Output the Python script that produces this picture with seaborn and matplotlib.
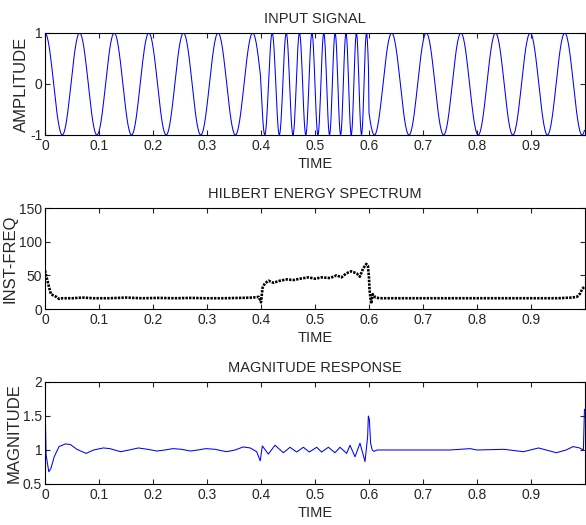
import numpy as np
import pandas as pd
import seaborn as sns
import matplotlib
matplotlib.use('Agg')
import matplotlib.pyplot as plt

# input signal: three segments
seg_start = [0.0, 0.4, 0.6]
seg_end = [0.4, 0.6, 1.0]
seg_f_start = [15.6, 35.0, 15.6]
seg_f_end = [15.6, 55.0, 15.6]
seg_peak = [0.0, 0.4207, 0.642]   # time of one crest inside each segment
fs = 1000

# hilbert instantaneous frequency (middle panel)
hil_t = [0.000, 0.003, 0.007, 0.011, 0.016, 0.021, 0.026, 0.032, 0.05, 0.07,
         0.09, 0.12, 0.15, 0.18, 0.21, 0.24, 0.27, 0.30, 0.33, 0.36,
         0.385, 0.396, 0.400, 0.403, 0.407, 0.414, 0.423, 0.435, 0.448, 0.460,
         0.472, 0.488, 0.500, 0.512, 0.528, 0.540, 0.549, 0.558, 0.567, 0.577,
         0.583, 0.589, 0.595, 0.598, 0.600, 0.601, 0.604, 0.607, 0.612, 0.62,
         0.65, 0.70, 0.75, 0.80, 0.85, 0.90, 0.95, 0.975, 0.985, 0.991,
         0.995, 0.999]
hil_f = [57, 47, 34, 22, 20, 18, 15, 16, 16, 17,
         16, 16, 17, 16, 16.5, 16, 16.5, 16, 16, 16.5,
         17, 18, 10, 32, 38, 42, 39, 42, 44, 43,
         45, 47, 45, 47, 46, 50, 47, 53, 56, 53,
         48, 60, 67, 64, 46, 28, 8, 22, 17, 16,
         16, 16, 16, 16, 16, 16, 16, 17, 18, 23,
         30, 33]

# magnitude response (bottom panel)
mag_t = [0.000, 0.001, 0.002, 0.007, 0.011, 0.017, 0.026, 0.038, 0.047, 0.059,
         0.076, 0.090, 0.108, 0.120, 0.140, 0.156, 0.173, 0.190, 0.207, 0.222,
         0.237, 0.253, 0.269, 0.283, 0.298, 0.315, 0.336, 0.352, 0.367, 0.380,
         0.392, 0.3985, 0.4025, 0.4136, 0.4259, 0.4414, 0.4537, 0.4660, 0.4784, 0.4895,
         0.5031, 0.5123, 0.5247, 0.5370, 0.5463, 0.5586, 0.5648, 0.5741, 0.5833, 0.5926,
         0.5975, 0.5988, 0.6006, 0.603, 0.606, 0.609, 0.615, 0.65, 0.70, 0.75,
         0.787, 0.80, 0.85, 0.886, 0.914, 0.947, 0.965, 0.978, 0.990, 0.997,
         0.999]
mag_v = [1.76, 1.34, 0.93, 0.68, 0.73, 0.90, 1.05, 1.09, 1.08, 1.01,
         0.95, 1.00, 1.03, 1.02, 0.975, 1.00, 1.03, 1.01, 0.985, 1.00,
         1.02, 1.01, 0.985, 1.00, 1.02, 1.01, 0.975, 1.00, 1.045, 1.03,
         0.975, 0.84, 1.06, 0.94, 1.07, 0.96, 1.04, 0.97, 1.04, 0.97,
         1.04, 0.97, 1.04, 0.96, 1.04, 0.95, 1.07, 0.90, 1.10, 0.83,
         1.20, 1.50, 1.45, 1.10, 1.00, 0.98, 1.00, 1.00, 1.00, 1.00,
         1.02, 1.00, 1.01, 0.975, 1.03, 0.96, 1.00, 1.05, 1.03, 1.00,
         1.60]

sns.set_style('ticks')
plt.rcParams['font.family'] = ['Liberation Sans', 'DejaVu Sans']
plt.rcParams['xtick.direction'] = 'in'
plt.rcParams['ytick.direction'] = 'in'
plt.rcParams['xtick.major.size'] = 3.6
plt.rcParams['ytick.major.size'] = 3.6
plt.rcParams['axes.linewidth'] = 0.8

# build the input signal
t = np.arange(fs) / fs
sig = np.zeros_like(t)
for a, b, f0, f1, pk in zip(seg_start, seg_end, seg_f_start, seg_f_end, seg_peak):
    k = (f1 - f0) / (2 * (b - a))
    ph = lambda x: f0 * (x - a) + k * (x - a) ** 2
    m = (t >= a) & (t < b)
    sig[m] = np.cos(2 * np.pi * (ph(t[m]) - ph(pk)))
df_sig = pd.DataFrame({'t': t, 'y': sig})
df_hil = pd.DataFrame({'t': hil_t, 'y': hil_f})
df_mag = pd.DataFrame({'t': mag_t, 'y': mag_v})

fig = plt.figure(figsize=(5.86, 5.25), dpi=100)
ax1 = fig.add_axes([0.0768, 0.7429, 0.9215, 0.1943])
ax2 = fig.add_axes([0.0768, 0.4114, 0.9215, 0.1924])
ax3 = fig.add_axes([0.0768, 0.0781, 0.9215, 0.1943])

sns.lineplot(data=df_sig, x='t', y='y', ax=ax1, color='#0000ff', linewidth=0.75, sort=False)
sns.lineplot(data=df_hil, x='t', y='y', ax=ax2, color='black', linewidth=1.9,
             sort=False, dashes=False)
ax2.lines[0].set_dashes((0.9, 0.45))
sns.lineplot(data=df_mag, x='t', y='y', ax=ax3, color='#0000ff', linewidth=0.75, sort=False)

titles = ['INPUT SIGNAL', 'HILBERT ENERGY SPECTRUM', 'MAGNITUDE RESPONSE']
ylabels = ['AMPLITUDE', 'INST-FREQ', 'MAGNITUDE']
ylims = [(-1, 1), (0, 150), (0.5, 2)]
yticks = [[-1, 0, 1], [0, 50, 100, 150], [0.5, 1, 1.5, 2]]
yticklabels = [['-1', '0', '1'], ['0', '50', '100', '150'], ['0.5', '1', '1.5', '2']]
xticks = [0, 0.1, 0.2, 0.3, 0.4, 0.5, 0.6, 0.7, 0.8, 0.9]
xticklabels = ['0', '0.1', '0.2', '0.3', '0.4', '0.5', '0.6', '0.7', '0.8', '0.9']

for ax, ttl, yl, lim, yt, ytl in zip([ax1, ax2, ax3], titles, ylabels, ylims, yticks, yticklabels):
    ax.set_xlim(0, 1.0)
    ax.set_ylim(*lim)
    ax.set_xticks(xticks)
    ax.set_xticklabels(xticklabels, fontsize=10)
    ax.set_yticks(yt)
    ax.set_yticklabels(ytl, fontsize=10)
    ax.tick_params(top=True, right=True, pad=3, width=0.8)
    ax.tick_params(axis='y', pad=2)
    ax.set_title(ttl, fontsize=10.5, pad=7)
    ax.set_xlabel('TIME', fontsize=10.5, labelpad=3)
    ax.set_ylabel(yl, fontsize=12, labelpad=1)
    for s in ax.spines.values():
        s.set_visible(True)
        s.set_color('black')

fig.savefig('out.png', dpi=100)
